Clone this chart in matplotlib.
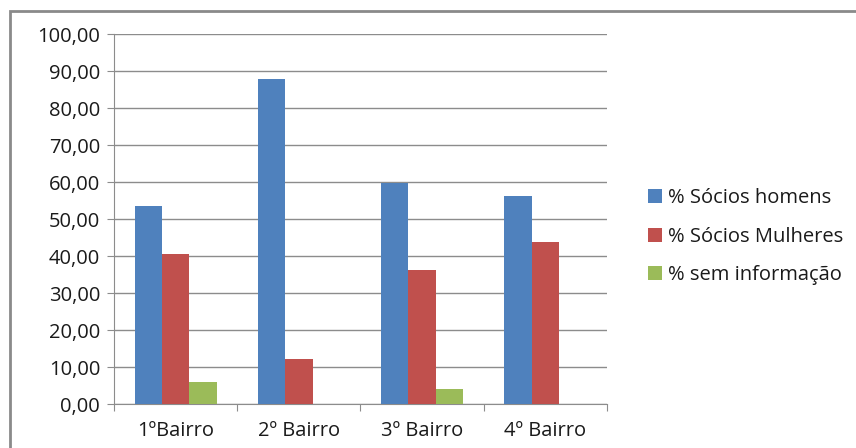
import matplotlib.pyplot as plt
import numpy as np
from matplotlib.patches import Rectangle

# data
bairros = ["1ºBairro", "2º Bairro", "3º Bairro", "4º Bairro"]
socios_homens = [53.6, 87.8, 59.8, 56.3]
socios_mulheres = [40.5, 12.2, 36.2, 43.7]
sem_informacao = [6.0, 0.0, 4.0, 0.0]
series_names = ["% Sócios homens", "% Sócios Mulheres", "% sem informação"]
y_ticks = np.arange(0, 101, 10)

colors = ["#4F81BD", "#C0504D", "#9BBB59"]
plt.rcParams['font.family'] = ['Open Sans', 'DejaVu Sans']
fs = 14.5

fig = plt.figure(figsize=(8.56, 4.48), dpi=100)
ax = fig.add_axes([114 / 856, 1 - 404 / 448, (607 - 114) / 856, (404 - 34) / 448])

x = np.arange(len(bairros))
w = 1 / 4.5
for i, vals in enumerate([socios_homens, socios_mulheres, sem_informacao]):
    ax.bar(x + (i - 1) * w, vals, width=w, color=colors[i], label=series_names[i],
           zorder=3, linewidth=0)

ax.set_xlim(-0.5, len(bairros) - 0.5)
ax.set_ylim(0, 100)
ax.set_yticks(y_ticks)
ax.set_yticklabels([f"{v:.2f}".replace(".", ",") for v in y_ticks])
ax.grid(axis="y", color="#8c8c8c", linewidth=1, zorder=0)

# category ticks at group boundaries, labels centred
ax.set_xticks(np.arange(-0.5, len(bairros)), minor=False)
ax.set_xticklabels([])
ax.set_xticks(x, minor=True)
ax.set_xticklabels(bairros, minor=True)
ax.tick_params(axis="x", which="major", length=5, color="#8c8c8c", direction="out")
ax.tick_params(axis="x", which="minor", length=0, pad=12, labelsize=fs, labelcolor="#1a1a1a")
ax.tick_params(axis="y", length=5, color="#8c8c8c", pad=5, labelsize=fs, labelcolor="#1a1a1a")

for s in ["top", "right"]:
    ax.spines[s].set_visible(False)
ax.spines["left"].set_color("#8c8c8c")
ax.spines["bottom"].set_color("#8c8c8c")

# outer chart frame
fig.patches.append(Rectangle((10 / 856, -0.1), 1.0, 1 - 11 / 448 + 0.1, transform=fig.transFigure,
                             fill=False, edgecolor="#8a8a8a", linewidth=2))

fig.legend(loc="upper left", bbox_to_anchor=(630 / 856, 1 - 170 / 448), frameon=False,
           handlelength=0.7, handleheight=0.7, handletextpad=0.3, labelspacing=0.92,
           fontsize=fs, labelcolor="#1a1a1a")

fig.savefig("out.png", dpi=100)
